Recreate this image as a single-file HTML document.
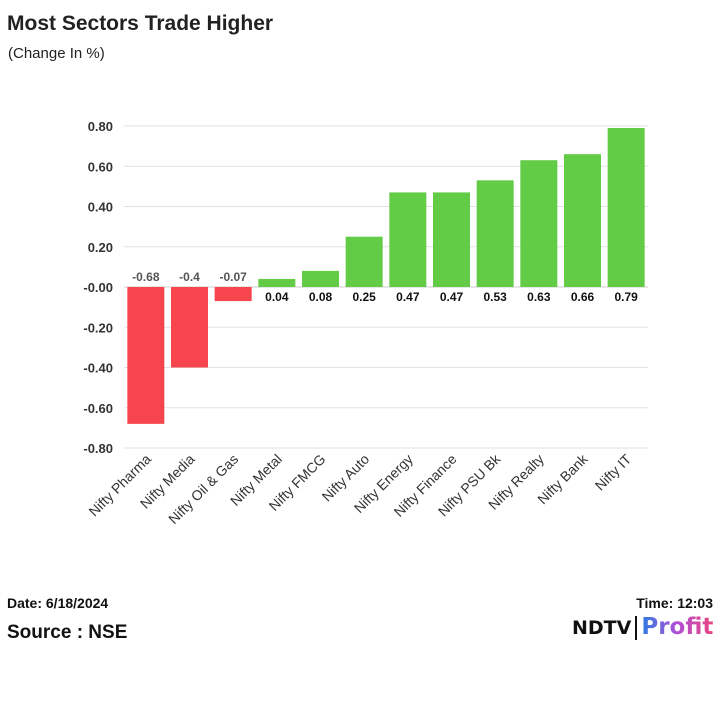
<!DOCTYPE html>
<html><head><meta charset="utf-8"><style>
body{margin:0;width:720px;height:720px;background:#fff;font-family:"Liberation Sans",Arial,sans-serif;overflow:hidden;position:relative}
.t{position:absolute;white-space:nowrap}
</style></head><body>
<div class="t" style="left:7px;top:12px;font-size:21px;font-weight:bold;color:#222">Most Sectors Trade Higher</div>
<div class="t" style="left:8px;top:45px;font-size:15px;color:#222">(Change In %)</div>
<svg id="c" width="720" height="720" style="position:absolute;left:0;top:0"></svg>
<div class="t" style="left:7px;top:595px;font-size:14px;font-weight:bold;color:#111">Date: 6/18/2024</div>
<div class="t" style="right:7px;top:595px;font-size:14px;font-weight:bold;color:#111">Time: 12:03</div>
<div class="t" style="left:7px;top:622px;font-size:19px;font-weight:bold;color:#111">Source : NSE</div>
<div class="t" style="left:572px;top:613px;font-size:23px;font-weight:bold;line-height:26px">
<span style="color:#111;letter-spacing:0px;font-size:19px;font-family:'DejaVu Sans',sans-serif">NDTV</span><span style="display:inline-block;width:2px;height:24px;background:#111;vertical-align:middle;margin:0 4px 0 4px"></span><span style="font-family:'DejaVu Sans',sans-serif;background:linear-gradient(90deg,#2a7de1,#b24fd8,#e8457e);-webkit-background-clip:text;background-clip:text;color:transparent">Profit</span></div>
<script>
const categories=["Nifty Pharma","Nifty Media","Nifty Oil & Gas","Nifty Metal","Nifty FMCG","Nifty Auto","Nifty Energy","Nifty Finance","Nifty PSU Bk","Nifty Realty","Nifty Bank","Nifty IT"];
const values=[-0.68,-0.4,-0.07,0.04,0.08,0.25,0.47,0.47,0.53,0.63,0.66,0.79];
const labels=["-0.68","-0.4","-0.07","0.04","0.08","0.25","0.47","0.47","0.53","0.63","0.66","0.79"];
const ticks=[0.8,0.6,0.4,0.2,0,-0.2,-0.4,-0.6,-0.8];
const tickLabels=["0.80","0.60","0.40","0.20","-0.00","-0.20","-0.40","-0.60","-0.80"];
const svg=document.getElementById('c');const NS='http://www.w3.org/2000/svg';
const x0=124,x1=648,yT=126,yB=448,vMax=0.8,vMin=-0.8;
const band=(x1-x0)/categories.length;
const y=v=>yT+(vMax-v)/(vMax-vMin)*(yB-yT);
const xc=i=>x0+band*(i+0.5);
function mk(t,a,txt){const e=document.createElementNS(NS,t);for(const k in a)e.setAttribute(k,a[k]);if(txt!=null)e.textContent=txt;svg.appendChild(e);return e;}
ticks.forEach((t,i)=>{
 const l=mk('line',{x1:x0,x2:x1,y1:y(t),y2:y(t),stroke:t===0?'#ccc':'#e2e2e2','stroke-width':1});
 
 
 const tx=mk('text',{x:113,y:y(t)+5,'text-anchor':'end','font-size':13,'font-weight':'bold',fill:'#333'},tickLabels[i]);
 
 
});
values.forEach((v,i)=>{
 const bw=37,top=Math.min(y(v),y(0)),h=Math.abs(y(v)-y(0));
 const r=mk('rect',{x:xc(i)-bw/2,y:top,width:bw,height:h,fill:v<0?'#f6454c':'#62cc46'});
 
 
 const lt=mk('text',{x:xc(i),y:v<0?y(0)-6:y(0)+14,'text-anchor':'middle','font-size':12,'font-weight':'bold',fill:v<0?'#555':'#111'},labels[i]);
 
 
 const cx=xc(i)+6,cy=yB+12;
 const cl=mk('text',{x:cx,y:cy,'text-anchor':'end','font-size':14,fill:'#333',transform:`rotate(-45 ${cx} ${cy})`},categories[i]);
 
 
});
</script>
</body></html>
